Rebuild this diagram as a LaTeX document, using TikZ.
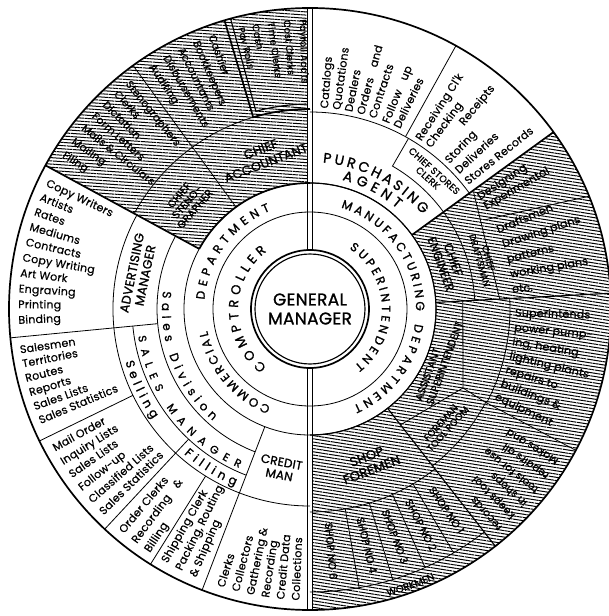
\documentclass[tikz,border=0pt]{standalone}
\usepackage{fontspec}
\newfontfamily\lettering[LetterSpace=2,FakeBold=0.5]{Poppins}
\newfontfamily\titling[LetterSpace=2,FakeBold=1.2]{Poppins}
\usetikzlibrary{patterns.meta,decorations.text}

% text set along an arc: [alignment] radius, start angle, end angle, size, text
\newcommand\ringlabel[6][fit to path]{%
  \path[decorate,decoration={text along path,text align=#1,
    text={|\titling\fontsize{#5}{#5}\selectfont|#6}}]
    (#3:#2) arc[start angle=#3,end angle=#4,radius=#2];}

\begin{document}
\begin{tikzpicture}[x=1pt,y=1pt,
  lnk/.style={line width=1.7pt},
  lnm/.style={line width=1.15pt},
  ln/.style={line width=0.8pt},
  hatchL/.style={pattern={Lines[angle=-4,distance=3.2pt,line width=1pt]},pattern color=black},
  hatchR/.style={pattern={Lines[angle=-9,distance=3.2pt,line width=1pt]},pattern color=black},
  lst/.style={font=\lettering\fontsize{11}{13}\selectfont,inner sep=0pt,anchor=mid west},
  lsu/.style={font=\lettering\fontsize{10.5}{12}\selectfont,inner sep=0pt,anchor=mid west},
  sml/.style={font=\lettering\fontsize{9.5}{10}\selectfont,inner sep=0pt,anchor=mid west},
  lbl/.style={font=\titling\fontsize{#1}{#1}\selectfont,align=center,inner sep=0pt},
]
\useasboundingbox (-310,-307) rectangle (298,309);
\fill[white] (-310,-307) rectangle (298,309);

% ---------- hatched departments ----------
\path[hatchL] (90:126) arc[start angle=90,end angle=151.5,radius=126] -- (151.5:301)
  arc[start angle=151.5,end angle=90,radius=301] -- cycle;
\path[hatchR] (3:126) arc[start angle=3,end angle=36,radius=126] -- (36:301)
  arc[start angle=36,end angle=3,radius=301] -- cycle;
\path[hatchR] (-90:126) arc[start angle=-90,end angle=3,radius=126] -- (3:301)
  arc[start angle=3,end angle=-90,radius=301] -- cycle;
\fill[white] (-2.5,59) rectangle (2.5,301);
\fill[white] (-2.5,-59) rectangle (2.5,-301);

% ---------- main rings ----------
\draw[lnk] (0,0) circle[radius=301];
\draw[lnk] (0,0) circle[radius=59];
\draw[lnm] (0,0) circle[radius=55];
\draw[ln] (0,0) circle[radius=97];
\draw[ln] (0,0) circle[radius=126];
\draw[lnk] (90:126) arc[start angle=90,end angle=151.5,radius=126];
\draw[lnm] (-90:126) arc[start angle=-90,end angle=90,radius=126];
\foreach \s in {-2.5,2.5}{
  \draw[lnm] (\s,58.9) -- (\s,301);
  \draw[lnm] (\s,-58.9) -- (\s,-301);
}

% ---------- commercial side ----------
\draw[lnk] (151.5:126) -- (151.5:301);
\draw[ln] (126:126) -- (126:301);
\draw[ln] (90:200) arc[start angle=90,end angle=151.5,radius=200];
% pay roll box with its inner frame
\draw[lnk] (90:200) arc[start angle=90,end angle=106.5,radius=200] -- (106.5:301);
\draw[lnm] (91:205) arc[start angle=91,end angle=105.3,radius=205] -- (105.3:300);
% sales rings
\draw[ln] (151.5:153) arc[start angle=151.5,end angle=249,radius=153];
\draw[ln] (185.5:178) arc[start angle=185.5,end angle=249,radius=178];
\draw[ln] (151.5:197) arc[start angle=151.5,end angle=270,radius=197];
\draw[ln] (185.5:153) -- (185.5:301);
\draw[ln] (206:197) -- (206:301);
\draw[ln] (227:178) -- (227:301);
\draw[ln] (238:197) -- (238:301);
\draw[ln] (249:126) -- (249:301);

% ---------- manufacturing side ----------
\draw[lnk] (36:126) -- (36:301);
\draw[ln] (36:197) arc[start angle=36,end angle=90,radius=197];
\draw[ln] (61:197) -- (61:301);
\draw[ln] (36:165) arc[start angle=36,end angle=60,radius=165] -- (60:197);
\draw[lnm] (3:126) -- (3:301);
% engineering
\draw[ln] (3:165) arc[start angle=3,end angle=36,radius=165];
\draw[ln] (35.5:201) -- (3:190);
\draw[ln] (27:196.5) -- (22:301);
% assistant superintendent, tool room, shops
\coordinate (p1) at (153,-79);
\draw[ln] (3:153) -- (p1) -- (-52:147);
\draw[ln] (p1) -- (-28:199);
\draw[ln] (3:200) arc[start angle=3,end angle=-28,radius=200];
\draw[ln] (-28:199) arc[start angle=-28,end angle=-52,radius=199];
\draw[ln] (-28:199) -- (-28:301);
\draw[lnm] (-52:126) -- (-52:301);
\draw[ln] (-90:203) arc[start angle=-90,end angle=-52,radius=203];
\foreach \a in {-80,-73,-66,-59.5} \draw[ln] (\a:203) -- (\a:283);
\draw[ln] (-90:283) arc[start angle=-90,end angle=-52,radius=283];

% ---------- centre ----------
\node[lbl=17] (gm) at (0,0) {GENERAL\\[2pt]MANAGER};

% ---------- curved ring titles ----------
\ringlabel{72}{233}{127}{13}{COMPTROLLER}
\ringlabel{106}{175}{112}{12}{DEPARTMENT}
\ringlabel{105}{248}{192}{12}{COMMERCIAL}
\ringlabel{72}{57}{-52}{12}{SUPERINTENDENT}
\ringlabel{106}{73}{-1}{12}{MANUFACTURING}
\ringlabel{106}{-8}{-66}{12}{DEPARTMENT}
\ringlabel{148}{173}{229}{12}{Sales Division}
\ringlabel{174}{189}{246}{11}{SALES MANAGER}
\ringlabel{192}{196}{215}{12}{Selling}
\ringlabel{192}{229}{247}{12}{Filling}
\ringlabel{147}{85}{40}{14}{PURCHASING}
\ringlabel{133}{76}{49}{14}{AGENT}
\ringlabel[center]{297.5}{-85}{-55}{10}{WORKMEN}

% ---------- office titles ----------
\node[lbl=12.5,rotate=21] (acc) at (107:160) {CHIEF\\[2pt]ACCOUNTANT};
\node[lbl=10.5,rotate=49] (sten) at (139:163) {CHIEF\\STENO-\\GRAPHER};
\node[lbl=12.5,rotate=78.5] (adv) at (168.5:175) {ADVERTISING\\[1pt]MANAGER};
\node[lbl=12,rotate=-11] (cred) at (259.5:162) {CREDIT\\[1pt]MAN};
\node[lbl=9.5,rotate=-42] (stor) at (48:181) {CHIEF STORES\\CLERK};
\node[lbl=12,rotate=-70] (eng) at (19:145) {CHIEF\\[1pt]ENGINEER};
\node[lbl=9,rotate=-74] (dft) at (16:181) {CHIEF\\DRAFTSMAN};
\node[lbl=10.5,align=left,rotate=70] (asst) at (-22:139) {ASSISTANT\\[1.5pt]SUPERINTENDENT};
\node[lbl=9.5,rotate=48] (tool) at (-41:178) {FOREMAN\\TOOL ROOM};
\node[lbl=13,rotate=21] (shopf) at (-69:165) {SHOP\\[1pt]FOREMEN};
\foreach \a/\t [count=\i] in {-85/6,-76.5/4,-69.5/3,-62.8/2,-55.8/1}
  \node[lbl=10.5,rotate=\a] (shop\i) at (\a:243) {SHOP NO \t};

% ---------- duties, reading toward the centre ----------
\foreach \a/\t [count=\i] in {91.6/Payroll Acc'ts,94.8/Cost Clerks,98/Time Clerks,101.1/Cash,104/Pay Rolls}
  \node[sml,rotate=\a+180] (pay\i) at (\a:290) {\t};
\foreach \a/\t [count=\i] in {110/Cashier,113.3/Bookkeepers,116.6/Accountants,119.9/Disbursements,123.2/Auditing}
  \node[lsu,rotate=\a+180] (ca\i) at (\a:291) {\t};
\foreach \a/\t [count=\i] in {129/Stenographers,132.1/Clerks,135.2/Dictation,138.3/Form Letters,141.5/Mails \& Circulars,144.8/Mailing,148.1/Filing}
  \node[lsu,rotate=\a+180] (cs\i) at (\a:291) {\t};
\foreach \a/\t [count=\i] in {154.6/Copy Writers,157.7/Artists,160.8/Rates,163.9/Mediums,167/Contracts,170.1/Copy Writing,173.2/Art Work,176.3/Engraving,179.4/Printing,182.5/Binding}
  \node[lst,rotate=\a+180] (am\i) at (\a:292) {\t};
\foreach \a/\t [count=\i] in {188.3/Salesmen,191.1/Territories,194/Routes,196.9/Reports,199.8/Sales Lists,202.7/Sales Statistics}
  \node[lst,rotate=\a+180] (se\i) at (\a:293) {\t};
\foreach \a/\t [count=\i] in {208.8/Mail Order,211.9/Inquiry Lists,215/Sales Lists,218.2/Follow-up,221.4/Classified Lists,224.6/Sales Statistics}
  \node[lst,rotate=\a+180] (mo\i) at (\a:292) {\t};
\foreach \a/\t [count=\i] in {230/Order Clerks,233.2/Recording\quad\&,236.3/Billing}
  \node[lst,rotate=\a+180] (oc\i) at (\a:292) {\t};
\foreach \a/\t [count=\i] in {240.3/Shipping Clerk,243.5/{Packing, Routing},246.6/\& Shipping}
  \node[lst,rotate=\a+180] (sh\i) at (\a:292) {\t};
\foreach \a/\t [count=\i] in {252.5/Clerks,255.5/Collectors,258.5/Gathering \&,261.5/Recording,264.5/Credit Data,267.5/Collections}
  \node[lst,rotate=\a+180] (cm\i) at (\a:292) {\t};
\foreach \a/\t [count=\i] in {-31.5/Makes and,-35/repairs all,-38.5/tools for use,-42/in shops,-45.5/keeps tool,-49/records}
  \node[lsu,rotate=\a+180] (mk\i) at (\a:291) {\t};

% ---------- duties, reading outward ----------
\foreach \a/\t [count=\i] in {85.5/Catalogs,82/Quotations,78.5/Dealers,75/Orders\quad and,71.5/Contracts,67.5/Follow\quad up,64/Deliveries}
  \node[lst,rotate=\a] (pa\i) at (\a:201) {\t};
\foreach \a/\t [count=\i] in {57/Receiving Cl'k,53.6/Checking,50.4/\hspace*{38pt}Receipts,46.7/Storing,42.7/Deliveries,38.7/Stores Records}
  \node[lst,rotate=\a] (st\i) at (\a:201) {\t};
\foreach \a/\t [count=\i] in {33.2/Designing,30/Experimental}
  \node[lst,rotate=\a] (de\i) at (\a:202) {\t};
\foreach \a/\t [count=\i] in {22.5/Draftsmen,18.2/Drawing plans,13.8/patterns,9.5/working plans,5.2/etc.}
  \node[lst,rotate=\a] (dr\i) at (\a:203) {\t};
\foreach \a/\t [count=\i] in {-1.5/Superintends,-5.5/power pump-,-9.5/{ing, heating},-13.5/lighting plants,-17.5/repairs to,-21.5/buildings \&,-25.5/equipment}
  \node[lst,rotate=\a] (su\i) at (\a:205) {\t};
\end{tikzpicture}
\end{document}
